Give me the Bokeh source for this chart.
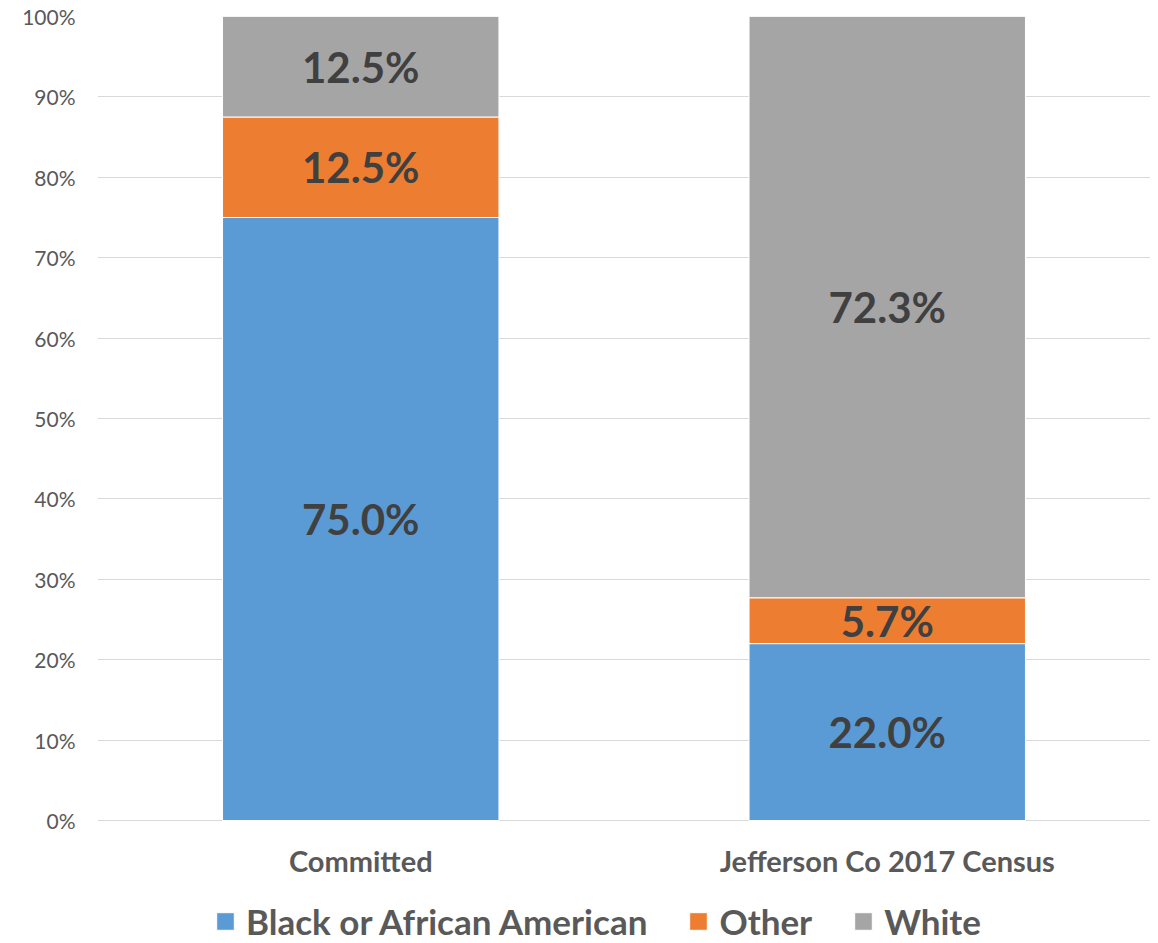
from bokeh.plotting import figure
from bokeh.models import (ColumnDataSource, FactorRange, Range1d, FixedTicker,
                          PrintfTickFormatter, LabelSet, Legend, LegendItem)
from bokeh.core.properties import value
from bokeh.embed import file_html
from bokeh.resources import INLINE

categories = ["Committed", "Jefferson Co 2017 Census"]
series = ["Black or African American", "Other", "White"]
black = [75.0, 22.0]
other = [12.5, 5.7]
white = [12.5, 72.3]
colors = ["#5B9BD5", "#ED7D31", "#A5A5A5"]
y_ticks = [0, 10, 20, 30, 40, 50, 60, 70, 80, 90, 100]

FONT = "Lato"

# layout (pixels): value 100 at top, value 0 at ZERO_PX, extra room below for labels + legend
TOP_PX, ZERO_PX, BOTTOM_PX = 16, 820, 942
px_per_unit = (ZERO_PX - TOP_PX) / 100.0
y_min = -(BOTTOM_PX - ZERO_PX) / px_per_unit

src = ColumnDataSource(dict(cat=categories, black=black, other=other, white=white))

p = figure(x_range=FactorRange(*categories, range_padding=0), y_range=Range1d(y_min, 100),
           frame_width=1053, frame_height=BOTTOM_PX - TOP_PX, output_backend="svg",
           toolbar_location=None,
           min_border_left=97, min_border_right=0, min_border_top=TOP_PX, min_border_bottom=0)

rs = p.vbar_stack(["black", "other", "white"], x="cat", width=0.525, source=src,
                  color=colors, line_color="white", line_width=1)

# data labels
lab_x, lab_y, lab_t = [], [], []
for i, c in enumerate(categories):
    base = 0.0
    for vals in (black, other, white):
        v = vals[i]
        lab_x.append(c)
        lab_y.append(base + v / 2.0)
        lab_t.append("%.1f%%" % v)
        base += v
lsrc = ColumnDataSource(dict(x=lab_x, y=lab_y, t=lab_t))
p.add_layout(LabelSet(x="x", y="y", text="t", source=lsrc, text_align="center",
                      text_baseline="middle", text_font=value(FONT), text_font_style="bold",
                      text_font_size="42px", text_color="#404040"))

# category labels (drawn under the zero line, like axis labels)
csrc = ColumnDataSource(dict(x=categories, y=[BOTTOM_PX - 860] * len(categories), t=categories))
p.add_layout(LabelSet(x="x", y="y", y_units="screen", text="t", source=csrc,
                      text_align="center", text_baseline="middle", text_font=value(FONT),
                      text_font_style="bold", text_font_size="29px", text_color="#595959"))

# axes
p.yaxis.ticker = FixedTicker(ticks=y_ticks)
p.yaxis.formatter = PrintfTickFormatter(format="%d%%")
p.yaxis.axis_line_color = None
p.yaxis.major_tick_line_color = None
p.yaxis.minor_tick_line_color = None
p.yaxis.major_tick_out = 0
p.yaxis.minor_tick_out = 0
p.yaxis.major_label_text_font = FONT
p.yaxis.major_label_text_font_size = "21px"
p.yaxis.major_label_text_color = "#595959"
p.yaxis.major_label_standoff = 22
p.xaxis.visible = False

p.xgrid.grid_line_color = None
p.ygrid.grid_line_color = "#D9D9D9"
p.ygrid.grid_line_width = 1
p.outline_line_color = None

legend = Legend(items=[LegendItem(label=s, renderers=[r]) for s, r in zip(series, rs)],
                orientation="horizontal", location=(117, 0),
                label_text_font=FONT, label_text_font_style="bold",
                label_text_font_size="35px", label_text_color="#595959",
                glyph_width=22, glyph_height=22, spacing=40, label_standoff=10,
                border_line_color=None, background_fill_alpha=0, padding=0, margin=0)
p.add_layout(legend, "center")

open("out.html", "w").write(file_html(p, INLINE))
